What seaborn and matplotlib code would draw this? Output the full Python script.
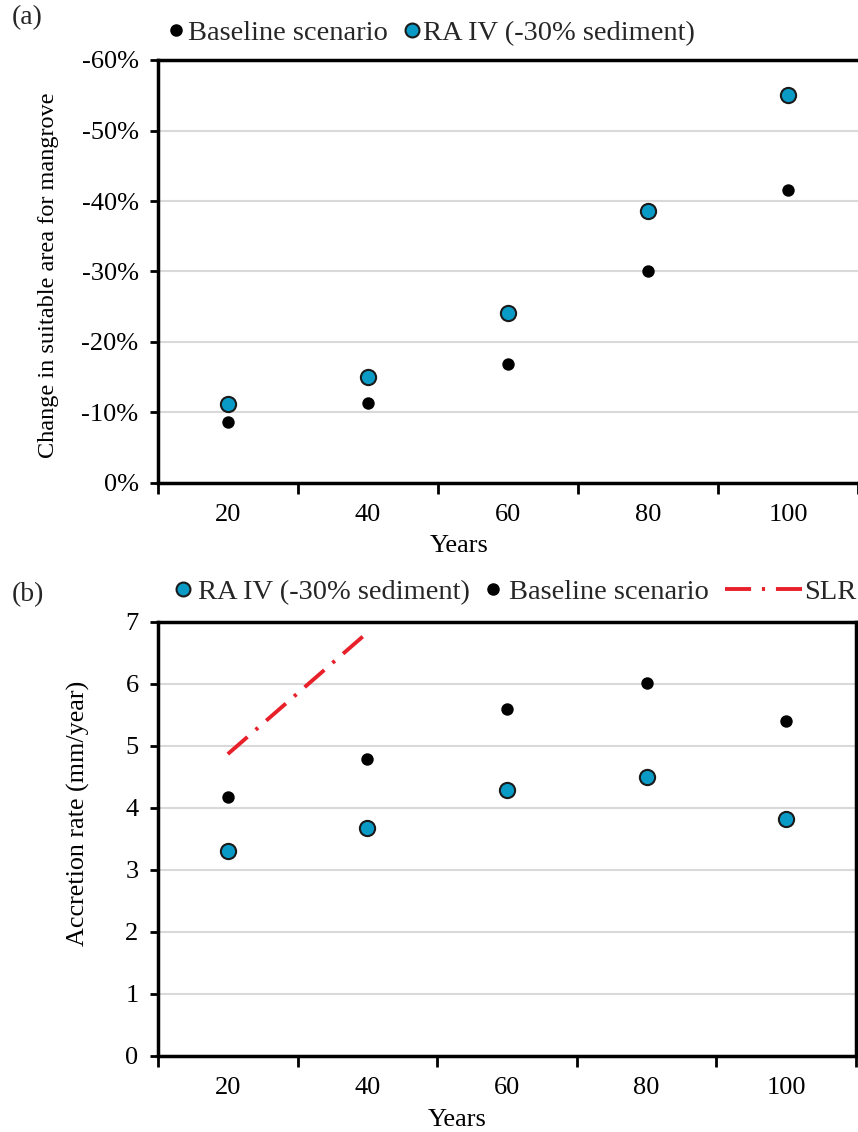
import numpy as np
import pandas as pd
import matplotlib
matplotlib.use("Agg")
import matplotlib.pyplot as plt
from matplotlib.lines import Line2D
from matplotlib.ticker import FixedLocator, FixedFormatter, NullFormatter, FuncFormatter
import seaborn as sns

sns.set_theme(style="white")
plt.rcParams['font.family'] = ['Liberation Serif', 'DejaVu Serif']

# ---- data ----
years = [20, 40, 60, 80, 100]

# (a) change in suitable area for mangrove (%)
area_baseline = [-8.7, -11.3, -16.9, -30.0, -41.6]
area_ra4 = [-11.2, -15.1, -24.1, -38.6, -55.1]

# (b) accretion rate (mm/year)
acc_ra4 = [3.30, 3.67, 4.29, 4.50, 3.83]
acc_baseline = [4.17, 4.79, 5.60, 6.02, 5.40]
slr_years = [20, 40]
slr_rate = [4.87, 6.83]

BASE_LBL = "Baseline scenario"
RA_LBL = "RA IV (-30% sediment)"

TEAL = "#0A9AC6"
EDGE = "#1A1A1A"
RED = "#E8202A"
GRID = "#D9D9D9"
FS_TICK = 19
FS_LEG = 20.5
SLR_DASH = (0, (6.7, 2.8, 0.8, 2.8))

df_a = pd.DataFrame({
    'year': years * 2,
    'value': area_baseline + area_ra4,
    'scenario': [BASE_LBL] * 5 + [RA_LBL] * 5,
})
df_b = pd.DataFrame({
    'year': years * 2,
    'value': acc_baseline + acc_ra4,
    'scenario': [BASE_LBL] * 5 + [RA_LBL] * 5,
})

W, H = 858, 1132
fig = plt.figure(figsize=(W / 100, H / 100), dpi=100)
ax_a = fig.add_axes([158 / W, 1 - 483 / H, 700 / W, 423 / H])
ax_b = fig.add_axes([158 / W, 1 - 1056 / H, 698 / W, 434 / H])


def draw_points(ax, df):
    sns.scatterplot(data=df[df.scenario == BASE_LBL], x='year', y='value',
                    color='black', s=80, edgecolor='black', linewidth=0,
                    legend=False, ax=ax, zorder=3)
    sns.scatterplot(data=df[df.scenario == RA_LBL], x='year', y='value',
                    color=TEAL, s=120, edgecolor=EDGE, linewidth=1.5,
                    legend=False, ax=ax, zorder=3)


def style_axes(ax, right_spine):
    ax.set_xlim(10, 110)
    ax.xaxis.set_major_locator(FixedLocator([10, 30, 50, 70, 90, 110]))
    ax.xaxis.set_major_formatter(NullFormatter())
    ax.xaxis.set_minor_locator(FixedLocator(years))
    ax.xaxis.set_minor_formatter(FixedFormatter([str(y) for y in years]))
    ax.tick_params(axis='x', which='major', direction='out', length=8, width=2,
                   bottom=True, color='black')
    ax.tick_params(axis='x', which='minor', length=0, pad=15, labelsize=FS_TICK,
                   labelcolor='black', bottom=True)
    ax.tick_params(axis='y', direction='out', length=6, width=2, left=True,
                   labelsize=FS_TICK, pad=8, labelcolor='black', color='black')
    for side in ['left', 'bottom', 'top', 'right']:
        ax.spines[side].set_color('black')
        ax.spines[side].set_linewidth(2.5)
    ax.spines['right'].set_visible(right_spine)
    ax.grid(axis='y', color=GRID, linewidth=1.5)
    ax.grid(axis='x', visible=False)
    ax.set_axisbelow(True)


# ---- (a) ----
draw_points(ax_a, df_a)
style_axes(ax_a, right_spine=False)
ax_a.set_ylim(0, -60)
ax_a.set_yticks(range(0, -70, -10))
ax_a.yaxis.set_major_formatter(FuncFormatter(lambda v, p: f"{int(round(v))}%"))
ax_a.set_xlabel("Years", fontsize=19, color='black', va='top')
ax_a.xaxis.set_label_coords(0.43, -0.122)
ax_a.set_ylabel("Change in suitable area for mangrove", fontsize=17.5, color='black')
ax_a.yaxis.set_label_coords(-0.141, 0.49)

h_base = Line2D([], [], marker='o', ls='', color='black', markersize=8)
h_ra = Line2D([], [], marker='o', ls='', markerfacecolor=TEAL,
              markeredgecolor=EDGE, markeredgewidth=1.5, markersize=10)
ax_a.legend([h_base, h_ra], [BASE_LBL, RA_LBL], loc='center left',
            bbox_to_anchor=(169 / W, 1 - 33 / H), bbox_transform=fig.transFigure,
            ncol=2, frameon=False, handlelength=0.5, handletextpad=0.15,
            columnspacing=0.6, fontsize=FS_LEG, borderaxespad=0, borderpad=0)

# ---- (b) ----
draw_points(ax_b, df_b)
sns.lineplot(x=slr_years, y=slr_rate, color=RED, linewidth=2.8,
             linestyle=SLR_DASH, ax=ax_b, zorder=2)
style_axes(ax_b, right_spine=True)
ax_b.set_ylim(0, 7)
ax_b.set_yticks(range(0, 8))
ax_b.set_xlabel("Years", fontsize=19, color='black', va='top')
ax_b.xaxis.set_label_coords(0.428, -0.122)
ax_b.set_ylabel("Accretion rate (mm/year)", fontsize=18.8, color='black')
ax_b.yaxis.set_label_coords(-0.097, 0.56)

leg1 = ax_b.legend([h_ra, h_base], [RA_LBL, BASE_LBL], loc='center left',
                   bbox_to_anchor=(174 / W, 1 - 592 / H), bbox_transform=fig.transFigure,
                   ncol=2, frameon=False, handlelength=0.6, handletextpad=0.25,
                   columnspacing=0.5, fontsize=FS_LEG, borderaxespad=0, borderpad=0)
ax_b.add_artist(leg1)
h_slr = Line2D([], [], color=RED, linewidth=2.8, linestyle=SLR_DASH)
ax_b.legend([h_slr], ["SLR"], loc='center right',
            bbox_to_anchor=(856 / W, 1 - 592 / H), bbox_transform=fig.transFigure,
            frameon=False, handlelength=2.7, handletextpad=0.05,
            fontsize=FS_LEG, borderaxespad=0, borderpad=0)

fig.text(12 / W, 1 - 5 / H, "(a)", fontsize=20, va='top', ha='left')
fig.text(12 / W, 1 - 582 / H, "(b)", fontsize=20, va='top', ha='left')

fig.savefig("out.png", dpi=100)
